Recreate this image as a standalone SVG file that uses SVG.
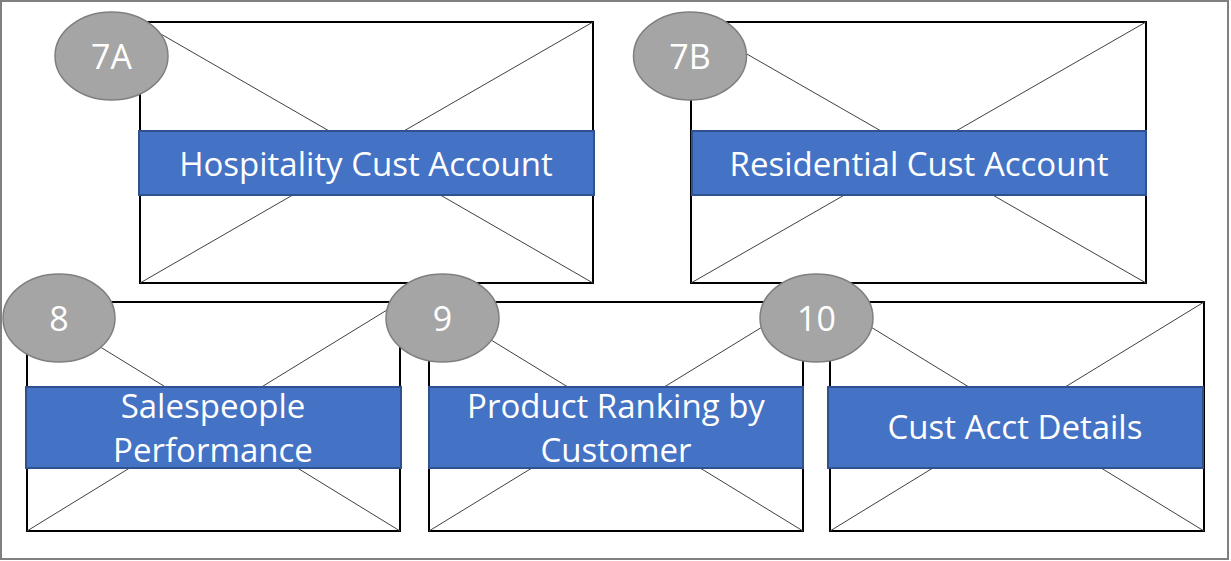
<svg xmlns="http://www.w3.org/2000/svg" width="1231" height="561" viewBox="0 0 1231 561">
<style>
.frame{fill:#fff;stroke:#808080;stroke-width:2}
.box{fill:#fff;stroke:#000;stroke-width:2}
.diag{stroke:#404040;stroke-width:1}
.bar{fill:#4472C4;stroke:#2F528F;stroke-width:2}
.badge{fill:#A5A5A5;stroke:#7F7F7F;stroke-width:1.5}
.t{font-family:"Open Sans","Segoe UI","Liberation Sans",sans-serif;fill:#fff;font-size:33px;text-anchor:middle}
.n{font-size:34px}
</style>
<rect class="frame" x="1" y="1" width="1227" height="558"/>
<g id="node-7A">
<rect class="box" x="140" y="22" width="453" height="261"/>
<line class="diag" x1="140" y1="22" x2="593" y2="283"/>
<line class="diag" x1="593" y1="22" x2="140" y2="283"/>
<rect class="bar" x="139" y="131" width="455" height="64"/>
<text class="t" x="366" y="176">Hospitality Cust Account</text>
<ellipse class="badge" cx="111.5" cy="56" rx="56.5" ry="44"/>
<text class="t n" x="111.5" y="69">7A</text>
</g>
<g id="node-7B">
<rect class="box" x="691" y="22" width="455" height="261"/>
<line class="diag" x1="691" y1="22" x2="1146" y2="283"/>
<line class="diag" x1="1146" y1="22" x2="691" y2="283"/>
<rect class="bar" x="692" y="131" width="454" height="64"/>
<text class="t" x="919" y="176">Residential Cust Account</text>
<ellipse class="badge" cx="690" cy="56" rx="56.5" ry="44"/>
<text class="t n" x="690" y="69">7B</text>
</g>
<g id="node-8">
<rect class="box" x="27" y="302" width="373" height="229"/>
<line class="diag" x1="27" y1="302" x2="400" y2="531"/>
<line class="diag" x1="400" y1="302" x2="27" y2="531"/>
<rect class="bar" x="26" y="387" width="375" height="81"/>
<text class="t" x="213" y="418">Salespeople</text>
<text class="t" x="213" y="462">Performance</text>
<ellipse class="badge" cx="59" cy="318" rx="56" ry="44"/>
<text class="t n" x="59" y="331">8</text>
</g>
<g id="node-9">
<rect class="box" x="429" y="302" width="374" height="229"/>
<line class="diag" x1="429" y1="302" x2="803" y2="531"/>
<line class="diag" x1="803" y1="302" x2="429" y2="531"/>
<rect class="bar" x="429" y="387" width="374" height="81"/>
<text class="t" x="616" y="418">Product Ranking by</text>
<text class="t" x="616" y="462">Customer</text>
<ellipse class="badge" cx="442.5" cy="318" rx="56.5" ry="44"/>
<text class="t n" x="442.5" y="331">9</text>
</g>
<g id="node-10">
<rect class="box" x="830" y="302" width="374" height="229"/>
<line class="diag" x1="830" y1="302" x2="1204" y2="531"/>
<line class="diag" x1="1204" y1="302" x2="830" y2="531"/>
<rect class="bar" x="828" y="387" width="375" height="81"/>
<text class="t" x="1015" y="439">Cust Acct Details</text>
<ellipse class="badge" cx="816.5" cy="318" rx="56.5" ry="44"/>
<text class="t n" x="816.5" y="331">10</text>
</g>
<g id="connectors"></g>
</svg>
